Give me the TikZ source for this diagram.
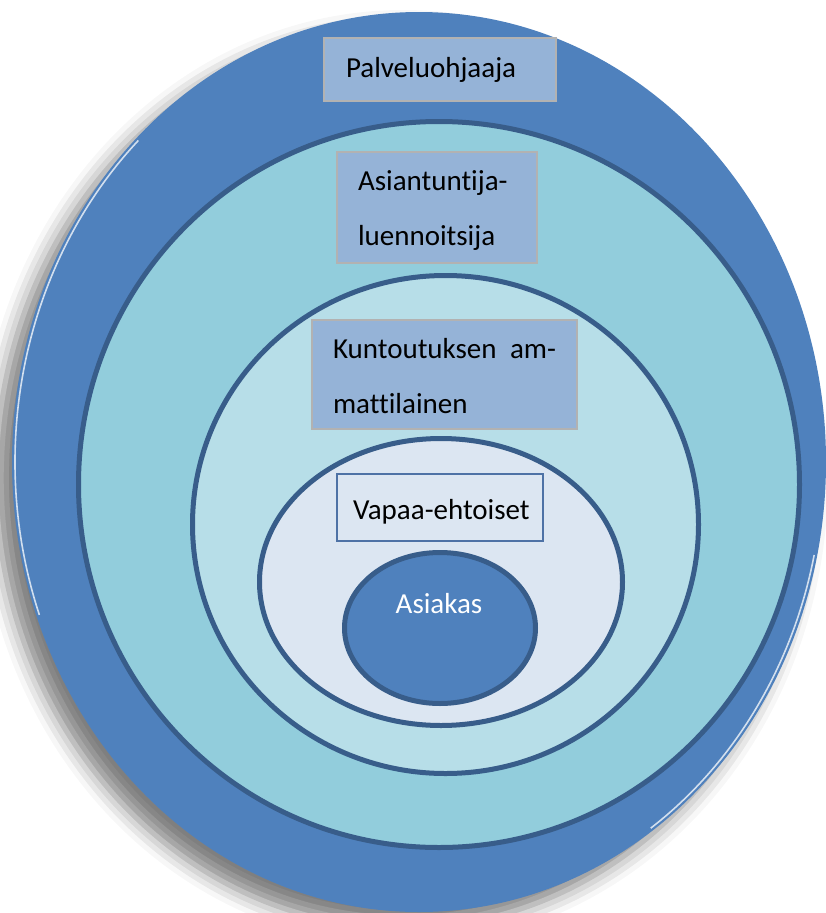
\documentclass[tikz,border=0pt]{standalone}
\usepackage{fontspec}
\setmainfont{Carlito}[Ligatures=NoCommon]
\usepackage{xcolor}
\usetikzlibrary{shapes.geometric,shadows.blur}

\definecolor{outerblue}{HTML}{4F81BD}
\definecolor{ringtwo}{HTML}{92CDDC}
\definecolor{ringthree}{HTML}{B7DEE8}
\definecolor{ringfour}{HTML}{DCE6F2}
\definecolor{edgeblue}{HTML}{385D8A}
\definecolor{boxblue}{HTML}{95B3D7}
\definecolor{boxgrey}{HTML}{B2B2B2}
\definecolor{frameblue}{HTML}{4E72A6}

\begin{document}
\begin{tikzpicture}[
    x=1pt, y=-1pt,
    font=\fontsize{29}{55}\selectfont,
    ring/.style     ={ellipse, draw=edgeblue, line width=5pt,
                      inner sep=0pt, outer sep=0pt},
    rolebox/.style  ={draw=boxgrey, line width=1.2pt, fill=boxblue,
                      inner sep=0pt, align=left},
    rim/.style      ={white, opacity=0.75, line width=1.6pt},
]
\useasboundingbox (0,0) rectangle (826,913);

% --- outer ring, shadow to the lower left ---
\node[ellipse, fill=outerblue, inner sep=0pt,
      minimum width=814pt, minimum height=900pt,
      blur shadow={shadow xshift=-16pt, shadow yshift=-16pt,
                   shadow blur radius=18pt, shadow opacity=50}]
      (outer) at (419,462) {};
\draw[rim] (419,462) ++(160:404 and 447) arc[start angle=160, end angle=226, x radius=404, y radius=447];
\draw[rim] (419,462) ++(12:404 and 447) arc[start angle=12, end angle=55, x radius=404, y radius=447];

% --- nested rings ---
\node[ring, fill=ringtwo,   minimum width=721pt, minimum height=726pt] (ringb) at (439,484.5) {};
\node[ring, fill=ringthree, minimum width=506pt, minimum height=498pt] (ringc) at (445.5,524.5) {};
\node[ring, fill=ringfour,  minimum width=363pt, minimum height=287pt] (ringd) at (441,582) {};
\node[ring, fill=outerblue, minimum width=191pt, minimum height=151pt] (asiakas) at (440,628) {};

% --- role boxes ---
\node[rolebox, minimum width=232pt, minimum height=63pt, text width=188pt,
      text height=20pt, text depth=5pt] (palvelu) at (440,69.5) {Palveluohjaaja};
\node[rolebox, minimum width=200pt, minimum height=111pt, text width=158pt,
      text height=20pt, text depth=55pt] (asiantuntija) at (437,207.5)
      {Asiantuntija-\\luennoitsija};
\node[rolebox, minimum width=265pt, minimum height=109pt, text width=223pt,
      text height=20pt, text depth=53pt] (kuntoutus) at (444.5,374.5)
      {\hbox to \linewidth{Kuntoutuksen\hfill am-}\\mattilainen};
\node[rolebox, draw=frameblue, fill=ringfour, minimum width=206pt, minimum height=67pt,
      text width=174pt, text height=25pt, text depth=2pt] (vapaa) at (440,507.5)
      {\mbox{Vapaa-ehtoiset}};

% --- centre ---
\node[anchor=base, text=white] (asiakaslabel) at (439,613) {Asiakas};

\end{tikzpicture}
\end{document}
